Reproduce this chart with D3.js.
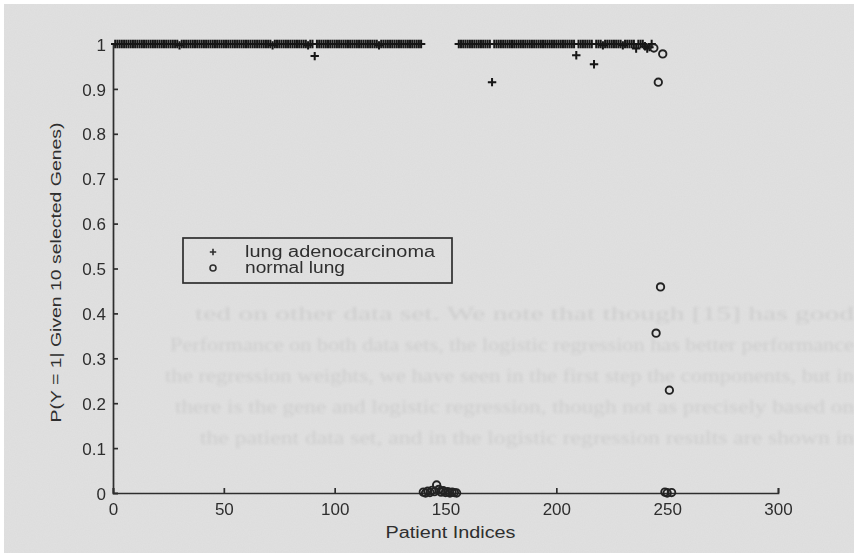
<!DOCTYPE html>
<html>
<head>
<meta charset="utf-8">
<script src="https://cdn.jsdelivr.net/npm/d3@7"></script>
<style>
  html, body { margin: 0; padding: 0; background: #fff; }
  #chart { width: 854px; height: 553px; }
  text { font-family: "Liberation Sans", Arial, sans-serif; }
</style>
</head>
<body>
<div id="chart"></div>
<script>
// Patient indices and P(Y=1) for the lung adenocarcinoma samples
const adenoIdx = [
  1,2,3,4,5,6,7,8,9,10, 11,12,13,14,15,16,17,18,19,20,
  21,22,23,24,25,26,27,28,29,30, 31,32,33,34,35,36,37,38,39,40,
  41,42,43,44,45,46,47,48,49,50, 51,52,53,54,55,56,57,58,59,60,
  61,62,63,64,65,66,67,68,69,70, 71,72,73,74,75,76,77,78,79,80,
  81,82,83,84,85,86,87,88,89,90, 91,92,93,94,95,96,97,98,99,100,
  101,102,103,104,105,106,107,108,109,110, 111,112,113,114,115,116,117,118,119,120,
  121,122,123,124,125,126,127,128,129,130, 131,132,133,134,135,136,137,138,139,
  156,157,158,159,160,161,162,163,164,165, 166,167,168,169,170,171,172,173,174,175,
  176,177,178,179,180,181,182,183,184,185, 186,187,188,189,190,191,192,193,194,195,
  196,197,198,199,200,201,202,203,204,205, 206,207,208,209,210,211,212,213,214,215,
  216,217,218,219,220,221,222,223,224,225, 226,227,228,229,230,231,232,233,234,235,
  236,237,238,239,240,241,242,243
];
const adenoP = [
  1,1,1,1,1,1,1,1,1,1, 1,1,1,1,1,1,1,1,1,1,
  1,1,1,1,1,1,1,1,1,0.997, 1,1,1,1,1,1,1,1,1,1,
  1,1,1,1,1,1,1,1,1,1, 1,1,1,1,1,1,1,1,1,1,
  1,1,1,1,1,1,1,1,1,1, 1,0.997,1,1,1,1,1,1,1,1,
  1,1,1,1,1,1,1,0.997,1,1, 0.973,1,1,1,1,1,1,1,1,1,
  1,1,1,1,1,1,1,1,1,1, 1,1,1,1,1,1,1,1,1,0.997,
  1,1,1,1,1,1,1,1,1,1, 1,1,1,1,1,1,1,1,1,
  1,1,1,1,1,1,1,1,1,1, 1,1,1,1,1,0.915,1,1,1,1,
  1,1,1,1,1,1,1,1,1,1, 1,1,1,1,1,1,1,1,1,1,
  1,1,1,1,1,1,1,1,1,1, 1,1,1,0.975,1,1,1,1,1,1,
  1,0.955,1,1,1,0.997,1,1,1,1, 1,1,1,1,0.997,1,1,1,1,1,
  0.99,1,1,1,0.995,0.99,0.993,1
];

// Patient indices and P(Y=1) for the normal lung samples
const normalIdx = [140,141,142,143,144,145,146,147,148,149,150,151,152,153,154,155,
                   244,245,246,247,248,249,250,251,252];
const normalP = [0.002,0,0.004,0.001,0.006,0.003,0.018,0.008,0.002,0.005,0.001,0.003,0,0.002,0.001,0,
                 0.991,0.356,0.915,0.459,0.978,0.002,0,0.229,0.001];

const xTicks = [0, 50, 100, 150, 200, 250, 300];
const yTicks = [0, 0.1, 0.2, 0.3, 0.4, 0.5, 0.6, 0.7, 0.8, 0.9, 1];
const legendLabels = ["lung adenocarcinoma", "normal lung"];

// faint text showing through from the other side of the scanned page
const bleedLines = [
  "ted on other data set.  We note that though [15] has good",
  "Performance on both data sets, the logistic regression has better performance",
  "the regression weights, we have seen in the first step the components, but in",
  "there is the gene and logistic regression, though not as precisely based on",
  "the patient data set, and in the logistic regression results are shown in"
];

const W = 854, H = 553;
const margin = { top: 44, right: 76, bottom: 60, left: 113 };
const width = W - margin.left - margin.right,
      height = H - margin.top - margin.bottom;

const svg = d3.select("#chart").append("svg")
  .attr("width", W).attr("height", H);

const defs = svg.append("defs");
const noise = defs.append("filter").attr("id", "noise")
  .attr("x", 0).attr("y", 0).attr("width", "100%").attr("height", "100%");
noise.append("feTurbulence").attr("type", "fractalNoise")
  .attr("baseFrequency", 0.85).attr("numOctaves", 2).attr("seed", 3);
noise.append("feColorMatrix").attr("type", "matrix")
  .attr("values", "0 0 0 0 0.5  0 0 0 0 0.5  0 0 0 0 0.5  0 0 0 0.14 0");
defs.append("filter").attr("id", "soft")
  .append("feGaussianBlur").attr("stdDeviation", 0.55);
defs.append("filter").attr("id", "bleed")
  .append("feGaussianBlur").attr("stdDeviation", 1.6);

// scanned grey page
svg.append("rect").attr("x", 4).attr("y", 4).attr("width", W - 4).attr("height", H - 4)
  .attr("fill", "#e1e1e1");
svg.append("rect").attr("x", 4).attr("y", 4).attr("width", W - 4).attr("height", H - 4)
  .attr("filter", "url(#noise)");

svg.append("g").attr("filter", "url(#bleed)").attr("opacity", 0.1)
  .selectAll("text").data(bleedLines).enter().append("text")
  .attr("x", (d, i) => [195, 170, 165, 175, 200][i])
  .attr("y", (d, i) => 320 + i * 31)
  .attr("textLength", (d, i) => [659, 684, 689, 679, 654][i])
  .attr("lengthAdjust", "spacingAndGlyphs")
  .style("font-family", "'Liberation Serif', serif")
  .style("font-size", "18px")
  .attr("fill", "#333")
  .text(d => d);

const g = svg.append("g")
  .attr("transform", `translate(${margin.left},${margin.top})`);

const x = d3.scaleLinear().domain([0, 300]).range([0, width]);
const y = d3.scaleLinear().domain([0, 1]).range([height, 0]);

const ink = "#2e2e2e";

// axes with inward ticks
const xAxis = d3.axisBottom(x).tickValues(xTicks)
  .tickSizeInner(-5).tickSizeOuter(-5).tickPadding(10);
const yAxis = d3.axisLeft(y).tickValues(yTicks)
  .tickSizeInner(-5).tickSizeOuter(-5).tickPadding(7)
  .tickFormat(d3.format(".1~f"));

const gx = g.append("g").attr("transform", `translate(0,${height})`).call(xAxis);
const gy = g.append("g").call(yAxis);
[gx, gy].forEach(a => {
  a.attr("filter", "url(#soft)");
  a.selectAll("path, line").attr("stroke", ink).attr("stroke-width", 1.7);
  a.selectAll("text").attr("fill", ink).style("font-size", "17px");
});
gy.selectAll("text").attr("dy", "0.36em");

// axis titles
g.append("text")
  .attr("x", (x(0) + x(300)) / 2 + 5).attr("y", height + 45)
  .attr("text-anchor", "middle")
  .attr("textLength", 130).attr("lengthAdjust", "spacingAndGlyphs")
  .attr("fill", ink).style("font-size", "16px")
  .text("Patient Indices");

g.append("text")
  .attr("transform", `translate(${-52},${y(0.5) + 4}) rotate(-90)`)
  .attr("text-anchor", "middle")
  .attr("textLength", 300).attr("lengthAdjust", "spacingAndGlyphs")
  .attr("fill", ink).style("font-size", "15px")
  .text("P(Y = 1| Given 10 selected Genes)");

// data marks
const marks = g.append("g").attr("filter", "url(#soft)");
const crossPath = s => `M${-s},0H${s}M0,${-s}V${s}`;

marks.selectAll(".adeno").data(adenoIdx).enter().append("path")
  .attr("class", "adeno")
  .attr("transform", (d, i) => `translate(${x(d)},${y(adenoP[i])})`)
  .attr("d", crossPath(4.2))
  .attr("stroke", "#141414").attr("stroke-width", 2).attr("fill", "none");

marks.selectAll(".normal").data(normalIdx).enter().append("circle")
  .attr("class", "normal")
  .attr("cx", d => x(d))
  .attr("cy", (d, i) => y(normalP[i]))
  .attr("r", 3.7)
  .attr("stroke", "#222").attr("stroke-width", 1.9).attr("fill", "none");

// legend
const legend = svg.append("g").attr("transform", "translate(183,238)");
legend.append("rect").attr("width", 269).attr("height", 45)
  .attr("fill", "none").attr("stroke", ink).attr("stroke-width", 1.7);
const items = legend.selectAll(".item").data(legendLabels).enter().append("g")
  .attr("transform", (d, i) => `translate(0,${14 + i * 16})`);
items.append("path")
  .attr("transform", "translate(30,0)")
  .attr("d", (d, i) => i === 0 ? crossPath(3.2) : d3.symbol().type(d3.symbolCircle).size(28)())
  .attr("stroke", ink).attr("stroke-width", 1.6).attr("fill", "none");
items.append("text")
  .attr("x", 62).attr("y", 5)
  .attr("textLength", (d, i) => [190, 100][i]).attr("lengthAdjust", "spacingAndGlyphs")
  .attr("fill", ink).style("font-size", "16px")
  .text(d => d);
</script>
</body>
</html>
